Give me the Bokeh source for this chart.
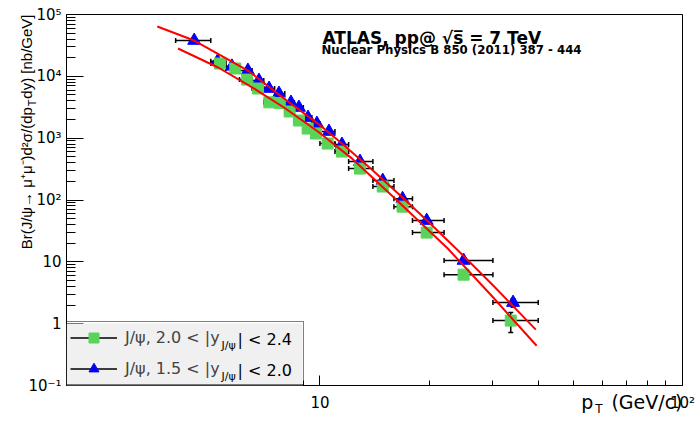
from math import pi

from bokeh.plotting import figure
from bokeh.models import (BoxAnnotation, ColumnDataSource, FixedTicker, Label, Legend,
                          LegendItem, Title)
from bokeh.embed import file_html
from bokeh.resources import INLINE

# Prompt J/psi -> mu+ mu- cross-section, 1.5 < |y| < 2.0
blue_pt_lo = [4.0, 5.0, 5.5, 6.0, 6.5, 7.0, 7.5, 8.0, 8.5, 9.0, 9.5, 10.0, 11.0, 12.0, 14.0, 16.0, 18.0, 22.0, 30.0]
blue_pt_hi = [5.0, 5.5, 6.0, 6.5, 7.0, 7.5, 8.0, 8.5, 9.0, 9.5, 10.0, 11.0, 12.0, 14.0, 16.0, 18.0, 22.0, 30.0, 40.0]
blue_pt = [4.5, 5.22, 5.72, 6.33, 6.79, 7.24, 7.71, 8.32, 8.75, 9.27, 9.81, 10.59, 11.5, 12.9, 14.9, 16.9, 19.7, 24.9, 34.1]
blue_xsec = [37900, 17500, 14500, 12400, 8550, 6350, 5270, 3770, 3130, 2150, 1720, 1280, 790, 418, 206, 105, 46.4, 10.5, 2.19]
blue_err = [3000, 1500, 1200, 900, 600, 450, 380, 270, 220, 150, 120, 90, 55, 30, 15, 8, 4, 1.0, 0.35]

# Prompt J/psi -> mu+ mu- cross-section, 2.0 < |y| < 2.4
green_pt_lo = [5.0, 5.5, 6.0, 6.5, 7.0, 7.5, 8.0, 8.5, 9.0, 9.5, 10.0, 11.0, 12.0, 14.0, 16.0, 18.0, 22.0, 30.0]
green_pt_hi = [5.5, 6.0, 6.5, 7.0, 7.5, 8.0, 8.5, 9.0, 9.5, 10.0, 11.0, 12.0, 14.0, 16.0, 18.0, 22.0, 30.0, 40.0]
green_pt = [5.3, 5.84, 6.3, 6.75, 7.25, 7.75, 8.25, 8.75, 9.25, 9.75, 10.5, 11.5, 12.9, 14.9, 16.9, 19.7, 24.9, 33.6]
green_xsec = [16100, 13400, 8870, 6350, 3800, 3700, 2700, 1930, 1430, 1190, 818, 607, 322, 165, 78, 29.7, 6.2, 1.12]
green_err = [2000, 1500, 700, 450, 280, 260, 190, 140, 100, 85, 60, 45, 25, 13, 7, 3, 0.9, 0.4]

# Fitted curves
fit_blue_pt = [3.56, 4.5, 5.34, 6.33, 7.96, 9.87, 11.5, 14.0, 17.04, 20.2, 24.0, 30.0, 39.4]
fit_blue_xsec = [64000, 37900, 21700, 12400, 4370, 1720, 818, 299, 105, 40.9, 15.4, 4.18, 0.80]
fit_green_pt = [4.06, 5.24, 6.45, 7.96, 9.87, 12.17, 15.89, 22.52, 29.58, 39.6]
fit_green_xsec = [28200, 13900, 6840, 3130, 1280, 485, 113.5, 16.4, 2.94, 0.44]

# Axis ticks and labels
x_major = [10, 100]
x_minor = [2, 3, 4, 5, 6, 7, 8, 9, 20, 30, 40, 50, 60, 70, 80, 90]
x_labels = {10: "10", 100: "10²"}
y_major = [0.1, 1, 10, 100, 1000, 10000, 100000]
y_labels = {0.1: "10⁻¹", 1: "1", 10: "10", 100: "10²", 1000: "10³", 10000: "10⁴", 100000: "10⁵"}

GREEN = "#5ad35a"
BLUE = "#0000ff"
FONT = "DejaVu Sans"
YFONT = "Liberation Sans"
NBSP = "\u00a0"

p = figure(width=697, height=421, x_axis_type="log", y_axis_type="log",
           x_range=(2, 100), y_range=(0.1, 1e5),
           output_backend="svg", toolbar_location=None,
           min_border_left=66, min_border_right=15, min_border_top=14, min_border_bottom=36)
p.grid.visible = False
p.outline_line_color = "black"
p.outline_line_width = 1

y_minor = [m * d for d in y_major[:-1] for m in range(2, 10)]

xa = p.xaxis[0]
xa.ticker = FixedTicker(ticks=x_major, minor_ticks=x_minor)
xa.major_label_overrides = x_labels
xa.major_tick_in, xa.major_tick_out = 10, 0
xa.minor_tick_in, xa.minor_tick_out = 5, 0
xa.major_label_standoff = 8
ya = p.yaxis[0]
ya.ticker = FixedTicker(ticks=y_major, minor_ticks=y_minor)
ya.major_label_overrides = y_labels
ya.major_tick_in, ya.major_tick_out = 17, 0
ya.minor_tick_in, ya.minor_tick_out = 9, 0
ya.major_label_standoff = 5
for ax in (xa, ya):
    ax.axis_line_color = "black"
    ax.major_tick_line_color = "black"
    ax.minor_tick_line_color = "black"
    ax.major_label_text_font = FONT
    ax.major_label_text_font_size = "15px"
    ax.major_label_text_color = "black"


def draw_errors(pt, lo, hi, xsec, err):
    src = ColumnDataSource(dict(pt=pt, lo=lo, hi=hi, y=xsec,
                                ylo=[v - e for v, e in zip(xsec, err)],
                                yhi=[v + e for v, e in zip(xsec, err)]))
    xerr = p.segment(x0="lo", x1="hi", y0="y", y1="y", source=src,
                     line_color="black", line_width=1.5)
    p.segment(x0="pt", x1="pt", y0="ylo", y1="yhi", source=src,
              line_color="black", line_width=1.5)
    p.scatter(x=lo + hi, y=xsec + xsec, marker="dash", angle=pi / 2, size=5,
              line_color="black", line_width=1.5)
    p.scatter(x=pt + pt, y=src.data["ylo"] + src.data["yhi"], marker="dash", size=5,
              line_color="black", line_width=1.5)
    return xerr


b_xerr = draw_errors(blue_pt, blue_pt_lo, blue_pt_hi, blue_xsec, blue_err)
g_xerr = draw_errors(green_pt, green_pt_lo, green_pt_hi, green_xsec, green_err)

b_mark = p.scatter(blue_pt, blue_xsec, marker="triangle", size=13,
                   fill_color=BLUE, line_color=BLUE)
g_mark = p.scatter(green_pt, green_xsec, marker="square", size=11,
                   fill_color=GREEN, line_color=GREEN)

p.line(fit_blue_pt, fit_blue_xsec, line_color="red", line_width=2)
p.line(fit_green_pt, fit_green_xsec, line_color="red", line_width=2)

# grey legend panel (the legend itself is drawn transparent on top of it)
p.add_layout(BoxAnnotation(left=0, right=236, bottom=0, top=62,
                           left_units="screen", right_units="screen",
                           bottom_units="screen", top_units="screen",
                           fill_color="#f0f0f0", fill_alpha=1, line_alpha=0))


def text(x, y, t, size, style="normal"):
    # text inside the frame; x, y in pixels from the frame's lower-left corner
    p.add_layout(Label(x=x, y=y, x_units="screen", y_units="screen", text=t,
                       text_font=FONT, text_font_size=size, text_font_style=style,
                       text_align="left", text_baseline="middle",
                       text_color="#000000"))


# legend subscripts and the rest of the legend texts
for row_y, tail in ((46.5, "| < 2.4"), (15.5, "| < 2.0")):
    text(155, row_y - 6, "J/ψ", "11px")
    text(171, row_y, tail, "16px")

legend = Legend(items=[LegendItem(label="J/ψ, 2.0 < |y", renderers=[g_xerr, g_mark]),
                       LegendItem(label="J/ψ, 1.5 < |y", renderers=[b_xerr, b_mark])],
                location=(0, 0), margin=0, padding=3, spacing=6,
                glyph_width=47, glyph_height=25, label_height=25, label_width=175,
                label_standoff=8, label_text_font=FONT, label_text_font_size="16px",
                border_line_color="black", border_line_width=1,
                background_fill_alpha=0)
p.add_layout(legend)

# header
text(256, 348, "ATLAS, pp@ √s̅ = 7 TeV", "17px", style="bold")
text(255, 336, "Nuclear Physics B 850 (2011) 387 - 444", "11.75px", style="bold")


def side_title(side, t, size, font, align, offset, standoff, valign):
    p.add_layout(Title(text=t, text_font=font, text_font_size=size,
                       text_font_style="normal", text_color="black",
                       align=align, offset=offset, standoff=standoff,
                       vertical_align=valign), side)


# y axis title, ending at the top of the frame, with a subscript T
side_title("left", f"Br(J/ψ→ μ⁺μ⁻)d²σ/(dp{NBSP * 2}dy) [nb/GeV]", "15px", YFONT, "right", 0, -19, "bottom")
side_title("left", "T", "11px", YFONT, "right", 85, -24, "bottom")

# x axis title, ending at the right end of the axis, with a subscript T
side_title("below", f"p{NBSP * 3}(GeV/c)", "19px", FONT, "right", 0, -48, "top")
side_title("below", "T", "12px", FONT, "right", 80, -25, "top")

open("out.html", "w").write(file_html(p, INLINE))
